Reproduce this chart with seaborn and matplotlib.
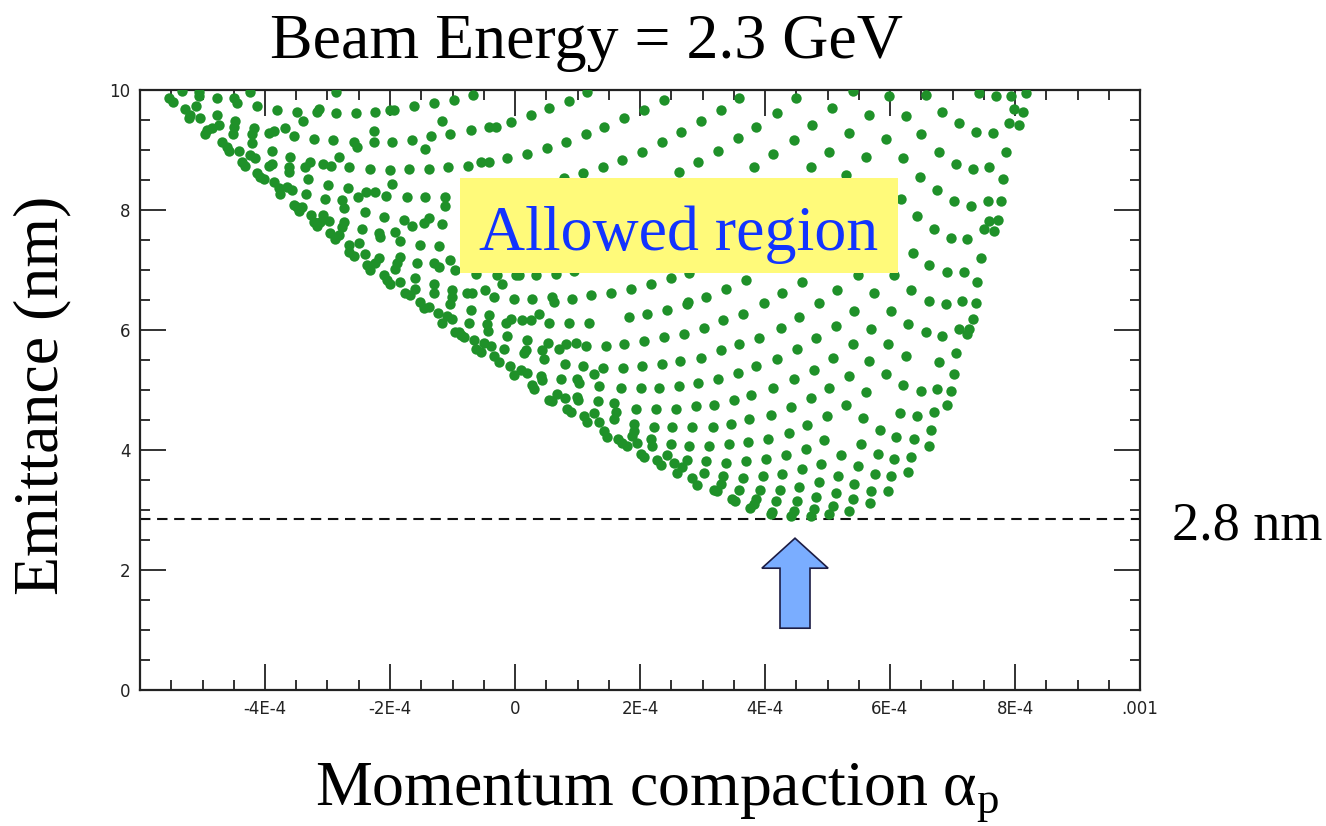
import numpy as np
import pandas as pd
import matplotlib
matplotlib.use("Agg")
import matplotlib.pyplot as plt
import seaborn as sns
from matplotlib.patches import Rectangle, FancyArrow
from matplotlib.ticker import MultipleLocator

# ---------------- data (alpha in units of 1e-4, emittance in nm) ----------------
alpha_e4 = [
    -5.54, -5.47, -5.33, -5.05, -5.05, -4.77, -4.50, -4.45, -4.24, -4.13, -3.81, -3.49, -3.40, -3.17, -3.13, -2.86, -2.86, -2.54, -2.24, -2.00, -1.93, -1.62, -1.30, -0.98, -1.17, -1.04,
    -5.28, -5.10, -5.20, -5.22, -5.04, -4.77, -4.48, -4.49, -4.51, -4.93, -4.96, -4.85, -4.74, -4.18, -4.21, -3.94, -3.86, -3.68, -3.54, -3.21, -2.91, -2.58, -2.53, -2.26, -2.26, -1.97, -1.65, -1.35, -1.44,
    -4.69, -4.61, -4.58, -4.42, -4.21, -4.24, -4.16, -3.89, -3.89, -3.94, -3.60, -3.61, -3.61, -3.36, -3.28, -3.07, -2.95, -2.81, -2.65, -2.32, -2.00, -1.70, -1.37, -1.08,
    -4.37, -4.32, -4.13, -4.08, -4.02, -3.86, -3.78, -3.76, -3.65, -3.57, -3.32, -3.34, -3.00, -3.04, -2.68, -2.51, -2.38, -2.24, -2.06, -1.97, -1.73, -1.44, -1.12, -1.12,
    -3.54, -3.49, -3.46, -3.41, -3.27, -3.22, -3.17, -3.12, -3.07, -2.98, -2.77, -2.74, -2.74, -2.77, -2.96, -2.88, -2.82, -2.40, -2.45, -2.18, -2.16, -2.10, -1.92, -1.78, -1.65, -1.46, -1.37, -1.17,
    -2.66, -2.50, -2.65, -2.58, -2.40, -2.37, -2.32, -2.24, -2.18, -2.10, -2.05, -2.00, -1.92, -1.89, -1.84, -1.84, -1.84, -1.76, -1.68, -1.60, -1.60, -1.57, -1.52, -1.30, -1.22, -1.21, -1.30, -1.30, -1.04, -0.96, -1.01, -1.01, -1.52,
    -0.68, -0.70, -0.41, -0.30, -0.07, 0.25, 0.54, 0.87, 1.15,
    -0.75, -0.55, -0.42, -0.13, 0.19, 0.51, 0.82, 1.14, 1.43, 1.75, 2.07, 2.38,
    3.59, 3.30, 2.97, 2.65, 2.35, 2.03, 1.71, 1.41, 1.08, 0.79,
    3.57, 3.24, 2.92, 2.62,
    -0.63, -0.29, -0.21, 0.01, 0.06, 0.33, 0.65, 0.95,
    -0.77, -0.69, -0.475, -0.34, -0.02, 0.27, 0.59, 0.62, 0.91, 1.22, 1.54, 1.85, 2.17, 2.49, 2.79,
    2.77, 3.06, 3.38, 3.70,
    4.49, 4.19, 3.86, 4.46, 4.13, 3.83, 4.73, 5.02, 4.75, 5.07, 5.41, 5.67, 5.35, 5.62, 5.30,
    5.98, 6.25, 5.94, 6.21, 6.48, 6.57, 6.83, 6.50, 6.78, 7.05, 7.32, 7.59, 7.10, 7.37, 7.64,
    7.43, 7.70, 7.94, 8.18, 7.99, 8.13, 7.91, 8.07, 7.86, 7.80,
    6.75, 7.02, 7.29, 7.56, 7.78, 7.59, 7.73, 7.51, 7.66,
    6.17, 6.43, 6.70, 6.97, 7.23, 7.46, 6.37, 6.63, 6.91, 7.18, 7.39,
    4.59, 4.27, 3.98, 4.86, 5.15, 5.48, 6.06, 5.75, 6.34, 6.62, 6.89, 7.15, 7.37,
    -1.46, -1.38, -1.24, -1.04, -1.17, -1.09, -1.01, -0.96,
    -0.70, -0.74, -0.42, -0.45, -0.43, -0.90, -0.87, -0.82, -0.65, -0.50, -0.38, -0.62, -0.55,
    -0.15, -0.07, 0.11, 0.25, 0.39, 0.55, 0.87, 1.19,
    -0.13, 0.19, -0.17, 0.14, 0.17, 0.43, 0.46, 0.53, 0.70, 0.81, 0.98, 1.14, 1.46, 1.75, 2.07, 2.38, 2.70, 3.03, 3.32, 3.64,
    1.82, 2.11, 2.43, 2.75,
    -0.34, -0.26, -0.08, -0.02, 0.09, 0.19, 0.27, 0.30, 0.41, 0.43, 0.73, 0.80, 0.99, 1.02, 1.08, 1.27, 1.40, 1.73, 2.03, 2.35, 2.64, 2.97, 3.29, 3.59,
    3.57, 3.24, 2.92, 2.62, 2.30, 2.01, 1.69, 1.35,
    0.54, 0.59, 0.67, 0.80, 0.83, 0.89, 0.99, 1.01, 1.10, 1.15, 1.27, 1.33, 1.34, 1.59, 1.61, 1.42, 1.47, 1.59, 1.90, 1.90, 1.87, 1.94, 2.25, 2.58, 2.90, 3.19, 3.51, 3.77,
    2.22, 2.51, 2.83, 3.16, 3.46, 3.75,
    1.65, 1.71, 1.79, 1.95, 2.18, 2.19, 2.01, 2.06, 2.49, 2.79, 3.11, 3.43, 3.72,
    2.27, 2.33, 2.43, 2.54, 2.67, 2.59, 2.75, 3.05, 3.38, 3.70,
    2.83, 2.91, 3.03, 3.32, 3.64, 3.18, 3.23, 3.30, 3.59, 3.47, 3.52, 3.76,
    4.54, 5.43, 6.02,
    4.25, 5.13, 5.70, 6.29, 6.57, 6.83, 7.10, 7.26, 7.23, 7.32,
    3.91, 4.81, 4.51, 5.40, 5.97, 6.25, 7.05, 6.78, 7.02,
    3.86, 4.19, 5.08, 5.67, 4.78, 4.46, 5.35, 5.94, 6.21, 6.49, 6.75, 6.97, 6.91,
    4.13, 5.02, 5.62, 4.73, 4.41, 5.30, 6.16, 6.43, 6.70,
    4.10, 4.99, 5.56, 4.67, 4.38, 5.84, 6.10, 6.38, 6.65, 6.62,
    4.05, 4.94, 5.54, 4.65, 4.33, 5.22, 5.81, 6.07, 6.34, 4.01,
    4.59, 4.90, 5.48, 3.97, 4.27, 5.16, 5.76, 6.02, 6.29,
    3.92, 4.24, 4.54, 4.86, 5.43, 5.70, 5.97, 5.14,
    3.86, 3.82, 4.18, 4.51, 4.81, 5.08, 5.40, 5.68,
    4.11, 4.09, 4.46, 4.41, 4.78, 4.73, 5.02, 5.35,
]
emit_nm = [
    9.86, 9.80, 9.98, 9.97, 9.90, 9.87, 9.87, 9.79, 9.96, 9.73, 9.67, 9.64, 9.48, 9.63, 9.68, 9.96, 9.62, 9.62, 9.64, 9.67, 9.67, 9.73, 9.79, 9.84, 9.48, 9.26,
    9.68, 9.73, 9.58, 9.53, 9.53, 9.59, 9.48, 9.38, 9.27, 9.33, 9.27, 9.36, 9.42, 9.37, 9.27, 9.28, 9.31, 9.37, 9.23, 9.19, 9.16, 9.13, 9.05, 9.31, 9.13, 9.13, 9.16, 9.23, 9.02,
    9.13, 9.05, 8.99, 8.99, 9.11, 8.92, 8.86, 8.99, 8.77, 8.74, 8.88, 8.72, 8.63, 8.72, 8.80, 8.77, 8.74, 8.88, 8.72, 8.68, 8.66, 8.68, 8.69, 8.72,
    8.80, 8.74, 8.62, 8.55, 8.52, 8.47, 8.36, 8.27, 8.38, 8.33, 8.51, 8.27, 8.41, 8.18, 8.36, 8.21, 8.30, 8.30, 8.24, 8.44, 8.21, 8.21, 8.21, 8.07,
    8.09, 8.05, 7.99, 8.05, 7.92, 7.80, 7.73, 7.80, 7.92, 7.81, 8.16, 8.03, 7.80, 7.72, 7.61, 7.52, 7.58, 7.97, 7.69, 7.61, 7.55, 7.88, 7.64, 7.83, 7.73, 7.79, 7.87, 7.76,
    7.42, 7.45, 7.30, 7.24, 7.27, 7.09, 7.00, 7.11, 7.20, 6.91, 6.83, 6.77, 7.02, 7.11, 7.49, 7.22, 6.80, 6.61, 6.58, 6.69, 6.87, 7.11, 7.42, 7.11, 7.05, 7.40, 6.77, 6.61, 7.17, 7.00, 6.66, 6.55, 6.47,
    9.92, 9.33, 9.39, 9.39, 9.47, 9.59, 9.70, 9.81, 9.96,
    8.74, 8.80, 8.80, 8.86, 8.94, 9.03, 9.13, 9.26, 9.39, 9.53, 9.67, 9.84,
    9.87, 9.67, 9.48, 9.30, 9.13, 8.97, 8.83, 8.72, 8.62, 8.53,
    9.20, 8.99, 8.80, 8.63,
    6.94, 6.91, 6.77, 6.92, 6.92, 6.91, 6.94, 6.98,
    6.61, 6.61, 6.66, 6.55, 6.52, 6.52, 6.55, 6.47, 6.52, 6.58, 6.61, 6.69, 6.77, 6.86, 6.95,
    6.46, 6.55, 6.69, 6.83,
    9.87, 9.62, 9.39, 9.16, 8.94, 8.72, 8.72, 8.97, 9.42, 9.70, 9.98, 9.59, 9.28, 8.88, 8.59,
    9.90, 9.56, 9.19, 8.86, 8.55, 9.92, 9.64, 9.26, 8.97, 8.77, 8.68, 8.72, 9.45, 9.30, 9.28,
    9.95, 9.90, 9.90, 9.95, 9.68, 9.64, 9.45, 9.42, 8.97, 8.51,
    8.33, 8.15, 8.07, 8.15, 8.15, 7.82, 7.84, 7.68, 7.65,
    8.18, 7.90, 7.68, 7.53, 7.51, 7.20, 7.28, 7.09, 6.97, 6.97, 6.80,
    6.80, 6.61, 6.45, 6.45, 6.66, 6.91, 6.91, 6.61, 6.66, 6.49, 6.44, 6.49, 6.45,
    6.36, 6.39, 6.29, 6.43, 6.11, 6.23, 6.19, 5.97,
    6.33, 6.12, 6.25, 6.10, 5.99, 5.97, 5.92, 5.89, 5.84, 5.79, 5.73, 5.69, 5.64,
    6.11, 6.19, 6.16, 6.16, 6.27, 6.12, 6.12, 6.12,
    5.90, 5.84, 5.68, 5.61, 5.67, 5.67, 5.51, 5.79, 5.68, 5.76, 5.79, 5.73, 5.73, 5.77, 5.82, 5.88, 5.93, 6.04, 6.16, 6.27,
    6.21, 6.27, 6.34, 6.43,
    5.56, 5.47, 5.40, 5.25, 5.33, 5.29, 5.08, 5.01, 5.23, 5.17, 5.18, 5.43, 5.19, 5.12, 5.40, 5.27, 5.36, 5.36, 5.40, 5.43, 5.49, 5.54, 5.66, 5.77,
    5.29, 5.18, 5.12, 5.06, 5.03, 5.03, 5.03, 5.06,
    4.84, 4.81, 4.94, 4.86, 4.69, 4.64, 4.89, 4.83, 4.56, 4.47, 4.62, 4.81, 4.47, 4.78, 4.64, 4.31, 4.22, 4.51, 4.43, 4.31, 4.23, 4.69, 4.69, 4.69, 4.73, 4.75, 4.83, 4.92,
    4.39, 4.39, 4.39, 4.39, 4.44, 4.51,
    4.19, 4.11, 4.07, 4.11, 4.18, 4.06, 3.94, 3.89, 4.10, 4.07, 4.07, 4.10, 4.13,
    3.84, 3.75, 3.92, 3.78, 3.72, 3.61, 3.83, 3.82, 3.79, 3.82,
    3.53, 3.42, 3.61, 3.57, 3.54, 3.34, 3.31, 3.43, 3.34, 3.19, 3.15, 3.03,
    6.21, 6.32, 6.32,
    6.04, 6.07, 6.01, 6.10, 5.96, 5.90, 6.01, 6.01, 5.94, 6.18,
    5.87, 5.87, 5.68, 5.76, 5.76, 5.57, 5.62, 5.46, 5.26,
    5.40, 5.51, 5.54, 5.48, 5.34, 5.18, 5.23, 5.26, 5.09, 4.98, 5.01, 4.98, 4.75,
    5.03, 5.03, 4.97, 4.86, 4.72, 4.75, 4.61, 4.56, 4.64,
    4.58, 4.56, 4.53, 4.42, 4.29, 4.33, 4.22, 4.18, 4.33, 4.07,
    4.18, 4.16, 4.10, 4.02, 3.91, 3.91, 3.93, 3.85, 3.88, 3.85,
    3.68, 3.77, 3.74, 3.57, 3.60, 3.57, 3.60, 3.57, 3.63,
    3.34, 3.34, 3.38, 3.46, 3.43, 3.32, 3.32, 3.29,
    3.18, 3.10, 3.15, 3.15, 3.21, 3.07, 3.18, 3.12,
    2.97, 2.93, 2.99, 2.90, 3.01, 2.90, 2.93, 2.98,
]

x_tick_values = [-6, -4, -2, 0, 2, 4, 6, 8, 10]          # units of 1e-4
x_tick_labels = ["", "-4E-4", "-2E-4", "0", "2E-4", "4E-4", "6E-4", "8E-4", ".001"]
y_tick_values = [0, 2, 4, 6, 8, 10]
y_tick_labels = ["0", "2", "4", "6", "8", "10"]
limit_nm = 2.85
limit_label = "2.8 nm"
title_text = "Beam Energy = 2.3 GeV"
xlabel_text = r"Momentum compaction $\mathrm{\alpha}_{\mathrm{p}}$"
ylabel_text = "Emittance (nm)"
box_text = "Allowed region"

# ---------------- style ----------------
sns.set_style("ticks")
plt.rcParams["font.family"] = ["DejaVu Sans"]
plt.rcParams["mathtext.fontset"] = "custom"
plt.rcParams["mathtext.rm"] = "Liberation Serif"
plt.rcParams["mathtext.it"] = "Liberation Serif:italic"

W, H = 1326, 826
fig = plt.figure(figsize=(W / 100, H / 100), dpi=100)
fig.patch.set_facecolor("white")
ax = fig.add_axes([140 / W, 1 - 690 / H, 1000 / W, 600 / H])
ax.set_facecolor("white")

df = pd.DataFrame({"alpha": np.array(alpha_e4) * 1e-4, "emit": emit_nm})
sns.scatterplot(data=df, x="alpha", y="emit", ax=ax, color="#1f9129",
                s=56, linewidth=0, legend=False, zorder=3)

ax.set_xlim(-6e-4, 1e-3)
ax.set_ylim(0, 10)
ax.set_xticks(np.array(x_tick_values) * 1e-4)
ax.set_xticklabels(x_tick_labels)
ax.set_yticks(y_tick_values)
ax.set_yticklabels(y_tick_labels)
ax.xaxis.set_minor_locator(MultipleLocator(0.5e-4))
ax.yaxis.set_minor_locator(MultipleLocator(0.5))
ax.tick_params(which="both", direction="in", top=True, right=True,
               labelsize=12, labelcolor="#222222", color="#222222", width=1.3)
ax.tick_params(which="major", length=19, pad=7)
ax.tick_params(which="minor", length=7.5)
ax.set_xlabel("")
ax.set_ylabel("")
for sp in ax.spines.values():
    sp.set_linewidth(1.6)
    sp.set_color("#222222")

# dashed limit line
ax.axhline(limit_nm, color="#111111", lw=1.5, ls=(0, (5, 3.2)), zorder=2)

# arrow pointing at the minimum
arrow = FancyArrow(4.48e-4, 1.03, 0, 1.5, width=0.48e-4, head_width=1.06e-4,
                   head_length=0.5, length_includes_head=True,
                   facecolor="#7aadff", edgecolor="#1c1c44", lw=1.2, zorder=6)
ax.add_patch(arrow)

# yellow "Allowed region" box
rect = Rectangle((460 / W, 1 - 273 / H), 438 / W, 95 / H, transform=fig.transFigure,
                 facecolor="#fffa7a", edgecolor="none", zorder=10)
fig.add_artist(rect)
fig.text(679 / W, 1 - 250 / H, box_text, ha="center", va="baseline",
         fontsize=46, color="#1233ff", family="Liberation Serif", zorder=11)

# texts
fig.text(586 / W, 1 - 58 / H, title_text, ha="center", va="baseline",
         fontsize=46, family="Liberation Serif", color="black")
fig.text(42 / W, 1 - 395 / H, ylabel_text, ha="center", va="center", rotation=90,
         fontsize=46, family="Liberation Serif", color="black")
fig.text(657 / W, 1 - 804 / H, xlabel_text, ha="center", va="baseline",
         fontsize=46, family="Liberation Serif", color="black")
fig.text(1172 / W, 1 - 540 / H, limit_label, ha="left", va="baseline",
         fontsize=39, family="Liberation Serif", color="black")

fig.savefig("out.png", dpi=100)
